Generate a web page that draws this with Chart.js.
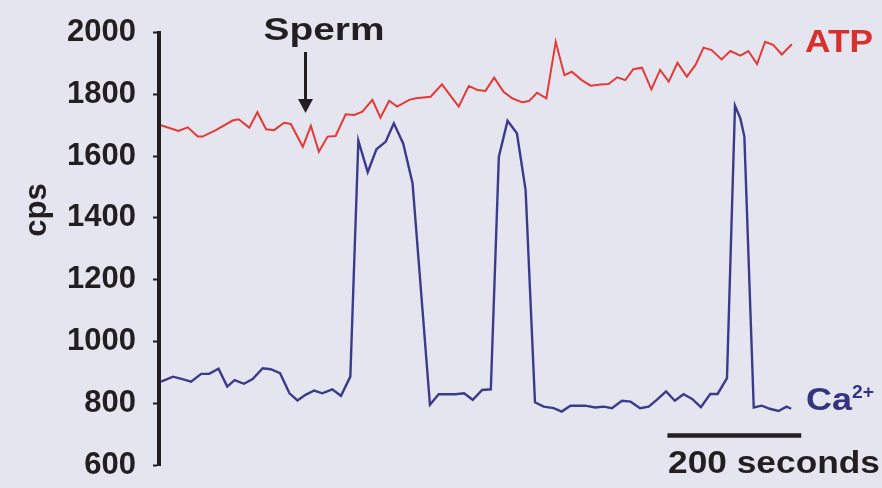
<!DOCTYPE html>
<html>
<head>
<meta charset="utf-8">
<script src="https://cdn.jsdelivr.net/npm/chart.js@4/dist/chart.umd.min.js"></script>
<style>
  html, body { margin: 0; padding: 0; background: #e5e5ef; }
  #wrap { width: 882px; height: 488px; position: relative; }
</style>
</head>
<body>
<div id="wrap"><canvas id="c" width="882" height="488"></canvas></div>
<script>
// ---- data (time in seconds, values in cps) ----
const atpTime = [0, 26, 40, 55, 62, 82, 107, 116, 132, 144, 157, 169, 184, 194, 212, 224, 236, 249, 261, 276, 289, 301, 316, 328, 341, 353, 371, 381, 403, 420, 445, 460, 473, 485, 498, 512, 525, 540, 550, 562, 576, 590, 603, 614, 629, 642, 657, 669, 682, 694, 706, 719, 733, 746, 759, 772, 786, 799, 811, 823, 838, 851, 866, 878, 891, 903, 915, 928, 943];
const atpValues = [1700, 1681, 1693, 1663, 1663, 1684, 1715, 1719, 1692, 1742, 1687, 1684, 1708, 1704, 1630, 1698, 1614, 1663, 1665, 1735, 1733, 1744, 1782, 1724, 1779, 1760, 1782, 1787, 1792, 1832, 1760, 1827, 1814, 1811, 1854, 1808, 1787, 1774, 1778, 1805, 1787, 1970, 1862, 1873, 1846, 1828, 1832, 1833, 1855, 1846, 1881, 1886, 1816, 1879, 1841, 1902, 1857, 1895, 1951, 1943, 1913, 1940, 1925, 1940, 1898, 1970, 1960, 1929, 1962];
const caTime = [0, 18, 32, 45, 60, 72, 86, 99, 110, 124, 137, 152, 164, 178, 192, 204, 216, 229, 241, 256, 269, 283, 295, 309, 322, 336, 348, 362, 376, 402, 415, 428, 440, 453, 466, 480, 493, 505, 518, 532, 545, 559, 572, 587, 599, 612, 634, 649, 662, 674, 689, 702, 716, 729, 741, 755, 768, 781, 794, 807, 821, 832, 846, 858, 866, 872, 886, 898, 910, 923, 935, 942];
const caValues = [870, 886, 878, 870, 895, 895, 912, 854, 875, 863, 878, 913, 910, 897, 832, 809, 827, 841, 832, 845, 824, 886, 1650, 1548, 1622, 1647, 1706, 1641, 1512, 795, 829, 829, 829, 832, 811, 843, 845, 1598, 1714, 1674, 1490, 803, 789, 784, 773, 792, 792, 786, 789, 784, 808, 805, 784, 789, 811, 838, 808, 829, 814, 787, 830, 830, 881, 1763, 1722, 1663, 786, 792, 782, 775, 789, 782];
const yTicks = [600, 800, 1000, 1200, 1400, 1600, 1800, 2000];
const spermTime = 216;          // sperm addition (arrow)
const scaleBarStart = 757;      // start of the 200 s scale bar
const scaleBarLength = 200;     // seconds

const FONT = "'Liberation Sans', Arial, Helvetica, sans-serif";
const DARK = '#231f20';
const RED = '#e23a36';
const BLUE = '#3b3b8c';

function pts(t, v) { return t.map((x, i) => ({ x: x, y: v[i] })); }

function fitText(ctx, text, x, y, size, width, align, color) {
  ctx.save();
  ctx.font = 'bold ' + size + 'px ' + FONT;
  ctx.fillStyle = color;
  ctx.textBaseline = 'alphabetic';
  const w = ctx.measureText(text).width;
  const s = width ? width / w : 1;
  let x0 = x;
  if (align === 'center') x0 = x - (w * s) / 2;
  else if (align === 'right') x0 = x - w * s;
  ctx.translate(x0, y);
  ctx.scale(s, 1);
  ctx.textAlign = 'left';
  ctx.fillText(text, 0, 0);
  ctx.restore();
}

const bgPlugin = {
  id: 'bg',
  beforeDraw(chart) {
    const ctx = chart.ctx;
    ctx.save();
    ctx.fillStyle = '#e5e5ef';
    ctx.fillRect(0, 0, chart.width, chart.height);
    ctx.restore();
  }
};

const annPlugin = {
  id: 'ann',
  afterDraw(chart) {
    const ctx = chart.ctx;
    const xs = chart.scales.x;
    // y-axis title "cps"
    ctx.save();
    ctx.translate(46, 210);
    ctx.rotate(-Math.PI / 2);
    ctx.font = 'bold 31px ' + FONT;
    ctx.fillStyle = DARK;
    ctx.textAlign = 'center';
    ctx.textBaseline = 'alphabetic';
    ctx.fillText('cps', 0, 0);
    ctx.restore();

    // Sperm label + arrow
    fitText(ctx, 'Sperm', 324, 40, 31, 121, 'center', DARK);
    const ax = xs.getPixelForValue(spermTime);
    ctx.save();
    ctx.strokeStyle = DARK;
    ctx.fillStyle = DARK;
    ctx.lineWidth = 3;
    ctx.beginPath();
    ctx.moveTo(ax, 52);
    ctx.lineTo(ax, 102);
    ctx.stroke();
    ctx.beginPath();
    ctx.moveTo(ax - 7.5, 99);
    ctx.lineTo(ax + 7.5, 99);
    ctx.lineTo(ax, 113);
    ctx.closePath();
    ctx.fill();
    ctx.restore();

    // series labels
    fitText(ctx, 'ATP', 805, 52, 31, 68, 'left', '#d8302c');
    fitText(ctx, 'Ca', 806, 410, 31, 46, 'left', '#33337f');
    fitText(ctx, '2+', 852, 398, 19, 22, 'left', '#33337f');

    // scale bar
    const x1 = xs.getPixelForValue(scaleBarStart);
    const x2 = xs.getPixelForValue(scaleBarStart + scaleBarLength);
    ctx.save();
    ctx.strokeStyle = DARK;
    ctx.lineWidth = 4.5;
    ctx.beginPath();
    ctx.moveTo(x1, 435.5);
    ctx.lineTo(x2, 435.5);
    ctx.stroke();
    ctx.restore();
    fitText(ctx, '200 seconds', 668, 473, 31, 212, 'left', DARK);
  }
};

new Chart(document.getElementById('c'), {
  type: 'line',
  data: {
    datasets: [
      { label: 'ATP', data: pts(atpTime, atpValues), borderColor: RED, borderWidth: 2, pointRadius: 0, tension: 0, fill: false },
      { label: 'Ca2+', data: pts(caTime, caValues), borderColor: BLUE, borderWidth: 2.4, pointRadius: 0, tension: 0, fill: false }
    ]
  },
  options: {
    responsive: false,
    animation: false,
    events: [],
    layout: { padding: { left: 0, right: 52, top: 32.5, bottom: 23 } },
    plugins: { legend: { display: false }, tooltip: { enabled: false } },
    scales: {
      x: { type: 'linear', min: -3, max: 1000, display: false },
      y: {
        type: 'linear', min: 600, max: 2000,
        afterBuildTicks(scale) { scale.ticks = yTicks.map(v => ({ value: v })); },
        afterFit(scale) { scale.width = 159; scale.paddingTop = 0; scale.paddingBottom = 0; },
        ticks: {
          color: DARK,
          padding: 17,
          font: { family: FONT, size: 31, weight: 'bold' },
          callback: v => String(v)
        },
        grid: { drawOnChartArea: false, drawTicks: true, tickLength: 6, tickWidth: 2, tickColor: DARK, color: DARK },
        border: { display: true, color: DARK, width: 4 }
      }
    }
  },
  plugins: [bgPlugin, annPlugin]
});
</script>
</body>
</html>
